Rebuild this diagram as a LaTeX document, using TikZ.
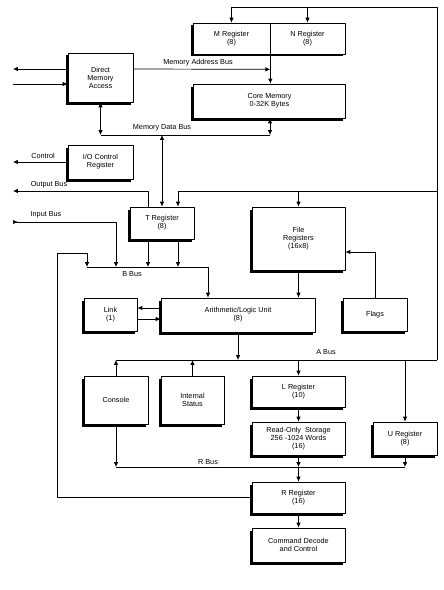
\documentclass[tikz,border=0pt]{standalone}
\usepackage{fontspec}
\setmainfont{Liberation Sans}
\usetikzlibrary{calc,shadows,arrows.meta}
\begin{document}
\begin{tikzpicture}[x=0.03cm,y=-0.03cm,>={Latex[length=4.2pt,width=3.8pt]},
	inb/.tip={Latex[reversed,length=4.2pt,width=3.8pt]},
	line join=round,line width=0.6pt,font=\fontsize{6.2}{6.8}\selectfont,
	blk/.style={draw,fill=white,align=center,inner sep=1pt,
		drop shadow={shadow xshift=-0.075cm,shadow yshift=-0.075cm,fill=black,opacity=1}},
	sz/.style 2 args={minimum width=#1*0.03cm,minimum height=#2*0.03cm},
	lbl/.style={inner sep=0pt}]
	\useasboundingbox (0,0) rectangle (443,590);
	% blocks
	\node[blk,sz={75}{31}] (N) at (307.5,38.5) {N Register\\(8)};
	\node[blk,sz={77}{31}] (M) at (231.5,38.5) {M Register\\(8)};
	\node[blk,sz={65}{49}] (dma) at (100.5,77.5) {Direct\\Memory\\Access};
	\node[blk,sz={152}{34}] (core) at (269.5,101) {Core Memory\\0-32K Bytes};
	\node[blk,sz={65}{34}] (ioc) at (100.5,162) {I/O Control\\Register};
	\node[blk,sz={64}{32}] (T) at (162,223) {T Register\\(8)};
	\node[blk,sz={93}{63}] (file) at (298.5,238.5) {File\\Registers\\(16x8)};
	\node[blk,sz={53}{33}] (link) at (110.5,314.5) {Link\\(1)};
	\node[blk,sz={154}{34}] (alu) at (238,315) {Arithmetic/Logic Unit\\(8)};
	\node[blk,sz={64}{33}] (flags) at (375,314.5) {Flags};
	\node[blk,sz={64}{48}] (con) at (116,400) {Console};
	\node[blk,sz={63}{48}] (ist) at (192.5,400) {Internal\\Status};
	\node[blk,sz={93}{31}] (L) at (298.5,391.5) {L Register\\(10)};
	\node[blk,sz={93}{33}] (ros) at (298.5,438.5) {Read-Only\ \ Storage\\256 -1024 Words\\(16)};
	\node[blk,sz={64}{33}] (U) at (405,438.5) {U Register\\(8)};
	\node[blk,sz={93}{31}] (R) at (298.5,497.5) {R Register\\(16)};
	\node[blk,sz={93}{34}] (cdc) at (298.5,545) {Command Decode\\and Control};
	% bus points
	\coordinate (rtop) at (437,7);
	\coordinate (aL) at (116,360);
	\coordinate (aR) at (437,360);
	\coordinate (bL) at (87,267);
	\coordinate (bR) at (208,267);
	\coordinate (rL) at (116,467);
	\coordinate (rR) at (405,467);
	\coordinate (loop) at (57,253);
	\coordinate (dmaout) at (13,69);
	\coordinate (dmain) at (13,84);
	\coordinate (ctl) at (13,162);
	\coordinate (obus) at (13,191);
	\coordinate (ibus) at (13,222);
	\coordinate (mdL) at (100.5,135);
	\coordinate (mdR) at (270,135);
	\coordinate (tl) at ($(T.south)+(-14,0)$);
	\coordinate (tr) at ($(T.south)+(16,0)$);
	% labels
	\node[lbl] (mab) at (198,63) {Memory Address Bus};
	\node[lbl] (mdb) at (162,128) {Memory Data Bus};
	\node[lbl] (ctltxt) at (43,156) {Control};
	\node[lbl] (obtxt) at (49,185) {Output Bus};
	\node[lbl] (ibtxt) at (46,215) {Input Bus};
	\node[lbl] (bbtxt) at (132,274) {B Bus};
	\node[lbl] (abtxt) at (326,352) {A Bus};
	\node[lbl] (rbtxt) at (208,462) {R Bus};
	% memory side
	\draw[->] (aR) -- (rtop) -| (M.north);
	\draw[->] (N.north |- rtop) -- (N.north);
	\draw[->] ($(dma.west)+(0,-8.5)$) -- (dmaout);
	\draw[->] (dmain) -- ($(dma.west)+(0,6.5)$);
	\draw[->] ($(dma.east)+(0,-8.5)$) -- ($(M.south east)+(0,15)$);
	\draw[->] (M.south east) -- (M.south east |- core.north);
	\draw (mdL) -- (mdR);
	\draw[<->] (mdL) -- (dma.south);
	\draw[<->] (mdR) -- (mdR |- core.south);
	\draw[<->] (T.north |- mdL) -- (T.north);
	\draw[->] (ioc.west) -- (ctl);
	% T register and B bus
	\draw[->] ($(T.north)+(-14,0)$) |- (obus);
	\draw[->] (aR |- obus) -| ($(T.north)+(16,0)$);
	\draw[->] (file.north |- obus) -- (file.north);
	\draw[inb->] (ibus) -| (aL |- bL);
	\draw[->] (R.west) -| (loop) -| (bL);
	\draw[->] (tl) -- (tl |- bL);
	\draw[->] (tr) -- (tr |- bL);
	\draw (bL) -- (bR);
	\draw[->] (bR) -- (bR |- alu.north);
	\draw[->] (file.south) -- (file.south |- alu.north);
	\draw[->] (flags.north) |- ($(file.east)+(0,13.5)$);
	\draw[->] ($(alu.west)+(0,-7)$) -- ($(link.east)+(0,-6.5)$);
	\draw[->] ($(link.east)+(0,4.5)$) -- ($(alu.west)+(0,4)$);
	% A bus and R bus
	\draw[->] (alu.south) -- (alu.south |- aL);
	\draw (aL) -- (aR);
	\draw[->] (con.north) -- (aL);
	\draw[->] (ist.north) -- (ist.north |- aL);
	\draw[->] (L.north |- aL) -- (L.north);
	\draw[->] (U.north |- aL) -- (U.north);
	\draw[->] (L) -- (ros);
	\draw (rL) -- (rR);
	\draw[->] (con.south) -- (rL);
	\draw[->] (ros.south) -- (ros.south |- rL);
	\draw[->] (U.south) -- (rR);
	\draw[->] (ros.south |- rL) -- (R.north);
	\draw[->] (R) -- (cdc);
\end{tikzpicture}
\end{document}
